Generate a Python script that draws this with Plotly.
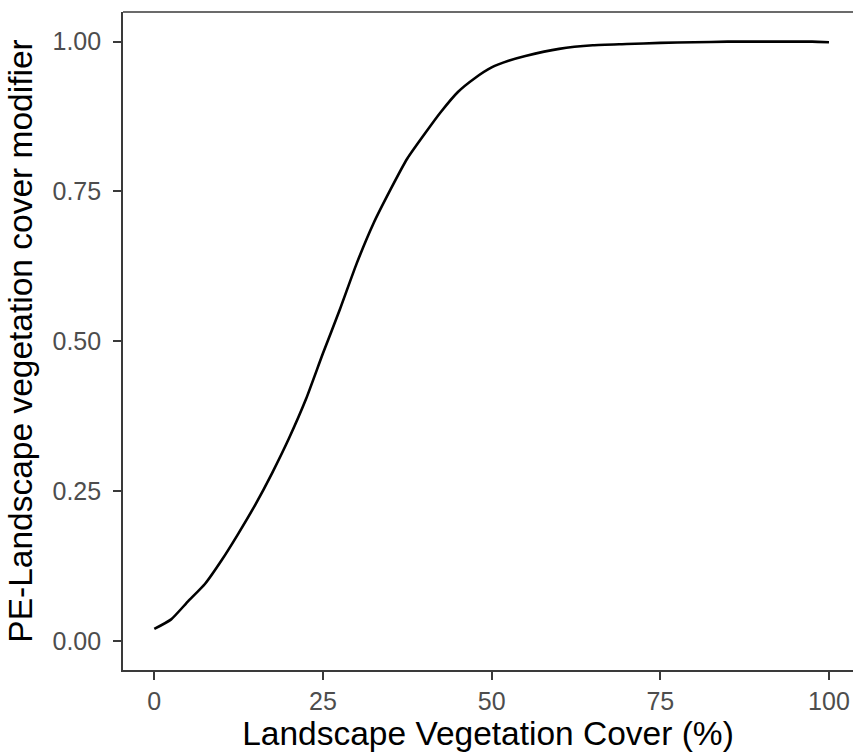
import plotly.graph_objects as go

# Data
cover_pct = [0, 2.5, 5, 7.5, 10, 12.5, 15, 17.5, 20, 22.5, 25, 27.5, 30, 32.5, 35,
             37.5, 40, 42.5, 45, 47.5, 50, 52.5, 55, 60, 65, 70, 75, 80, 85, 90, 95, 97.5, 100]
modifier = [0.020, 0.036, 0.066, 0.095, 0.135, 0.180, 0.228, 0.281, 0.339, 0.404, 0.480,
            0.553, 0.630, 0.697, 0.753, 0.805, 0.845, 0.883, 0.916, 0.939, 0.957, 0.968,
            0.976, 0.988, 0.994, 0.996, 0.998, 0.999, 1.000, 1.000, 1.000, 1.000, 0.999]

x_ticks = [0, 25, 50, 75, 100]
x_tick_labels = ["0", "25", "50", "75", "100"]
y_ticks = [0.0, 0.25, 0.5, 0.75, 1.0]
y_tick_labels = ["0.00", "0.25", "0.50", "0.75", "1.00"]

FONT = "Liberation Sans, Arial, sans-serif"
BORDER = "#3a3a3a"

fig = go.Figure()
fig.add_trace(go.Scatter(x=cover_pct, y=modifier, mode="lines",
                         line=dict(color="black", width=2.6, shape="spline", smoothing=0.5),
                         showlegend=False, hoverinfo="skip"))

fig.update_layout(
    width=853, height=752,
    margin=dict(l=123, r=0, t=12, b=82),
    paper_bgcolor="white", plot_bgcolor="white",
    font=dict(family=FONT),
    xaxis=dict(range=[-4.64, 103.56], tickvals=x_ticks, ticktext=x_tick_labels,
               showgrid=False, zeroline=False, showline=True, linecolor=BORDER,
               linewidth=1.6, ticks="outside", ticklen=8, tickwidth=1.6,
               tickcolor=BORDER, tickfont=dict(size=25, color="#4d4d4d"),
               ticklabelstandoff=0,
               title=dict(text="Landscape Vegetation Cover (%)",
                          font=dict(size=33.5, color="black"), standoff=7),
               automargin=False),
    yaxis=dict(range=[-0.0485, 1.0495], tickvals=y_ticks, ticktext=y_tick_labels,
               showgrid=False, zeroline=False, showline=True, linecolor=BORDER,
               linewidth=1.6, ticks="outside", ticklen=8, tickwidth=1.6,
               tickcolor=BORDER, tickfont=dict(size=25, color="#4d4d4d"),
               ticklabelstandoff=7,
               title=dict(text="PE-Landscape vegetation cover modifier",
                          font=dict(size=33.5, color="black"), standoff=10),
               automargin=False),
    shapes=[dict(type="line", xref="paper", yref="paper", x0=0, x1=1, y0=1, y1=1,
                 line=dict(color=BORDER, width=1.6))],
)

fig.write_html("out.html")
